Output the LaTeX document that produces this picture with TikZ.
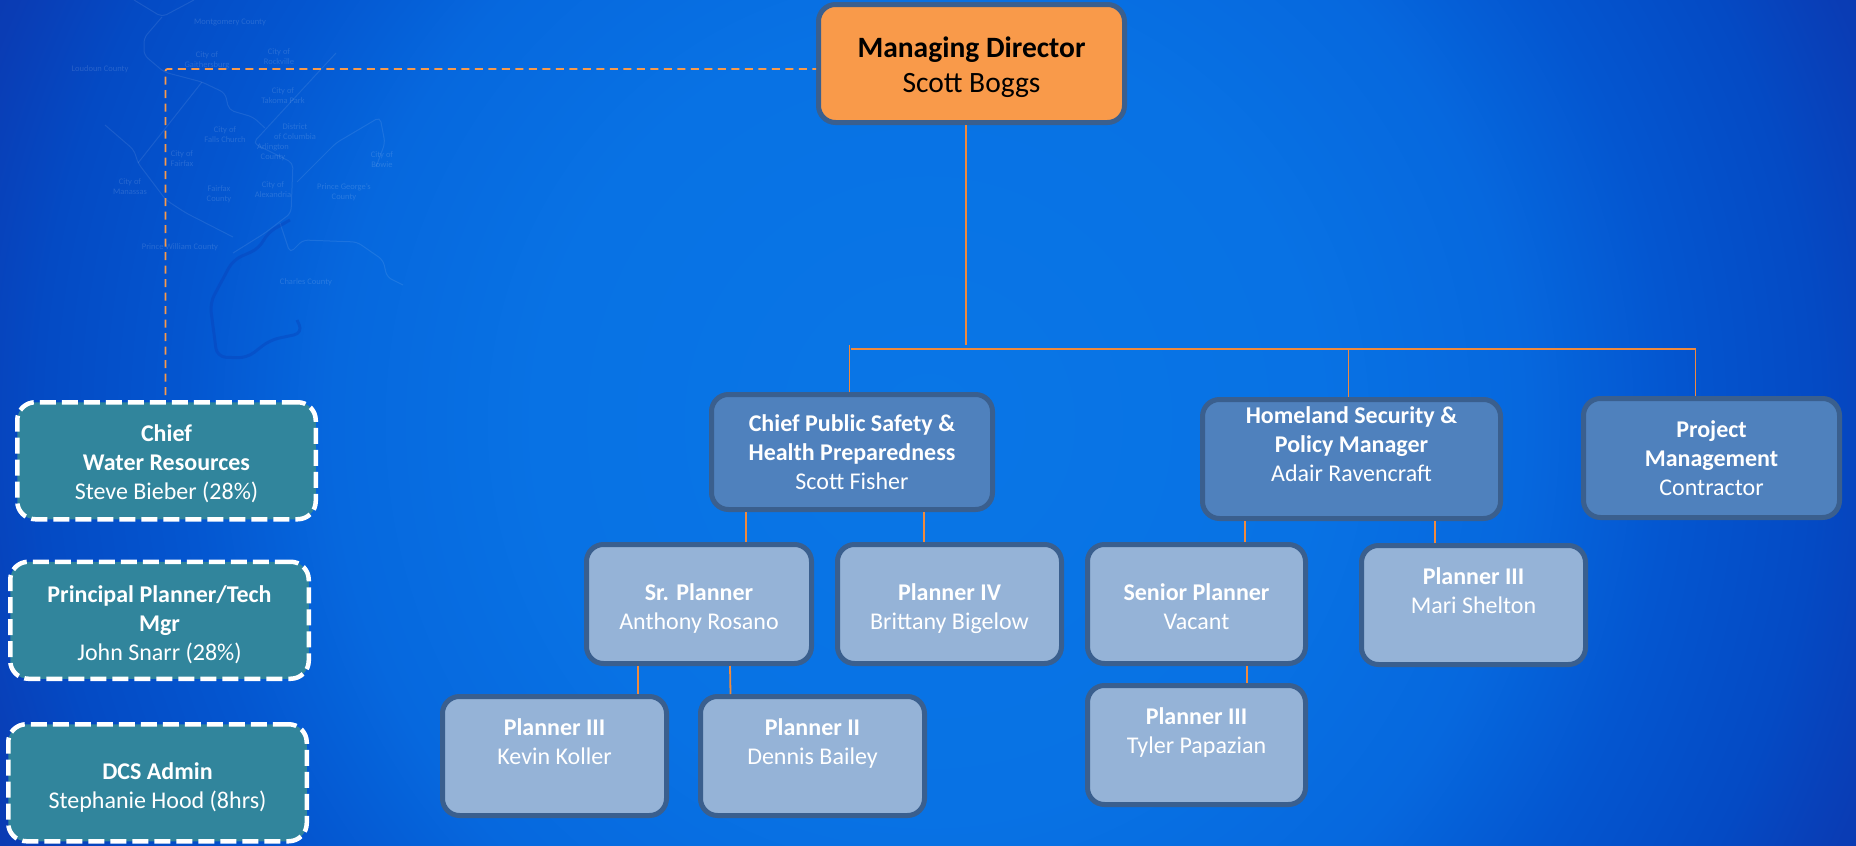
\documentclass[tikz,border=0pt]{standalone}
\usepackage{fontspec}
\setmainfont{Carlito}
\usetikzlibrary{positioning}
\definecolor{bxline}{HTML}{3A5F8E}
\definecolor{bxorange}{HTML}{F99A4A}
\definecolor{bxmid}{HTML}{4F81BD}
\definecolor{bxlight}{HTML}{95B3D7}
\definecolor{bxteal}{HTML}{31859C}
\definecolor{lnorange}{HTML}{F08A3C}
\definecolor{bga}{HTML}{0976E6}
\definecolor{bgb}{HTML}{0872E4}
\definecolor{bgc}{HTML}{0668DE}
\definecolor{bgd}{HTML}{0456D0}
\definecolor{bge}{HTML}{044AC4}
\definecolor{bgf}{HTML}{0A3CB4}
\definecolor{bgg}{HTML}{0E33A8}
\definecolor{bgh}{HTML}{112FA0}
\pgfdeclareradialshading{bgglow}{\pgfpoint{0bp}{0bp}}{
  color(0bp)=(bga);
  color(10.5bp)=(bgb);
  color(16bp)=(bgc);
  color(20bp)=(bgd);
  color(24bp)=(bge);
  color(27bp)=(bgf);
  color(31.5bp)=(bgg);
  color(35bp)=(bgh);
  color(100bp)=(bgh)}
\newcommand{\tup}[1]{\rule{0pt}{#1}}
\tikzstyle{dirbox}=[rectangle, rounded corners=17pt, draw=bxline, fill=bxorange, line width=5pt,
                    minimum width=306pt, minimum height=118pt, inner sep=0pt, align=center,
                    text=black, font=\fontsize{29.5}{34.5}\selectfont]
\tikzstyle{midbox}=[rectangle, rounded corners=17pt, draw=bxline, fill=bxmid, line width=5pt,
                    inner sep=0pt, align=center, text=white, font=\fontsize{24}{29}\selectfont]
\tikzstyle{lightbox}=[midbox, fill=bxlight, minimum width=224pt, minimum height=119pt]
\tikzstyle{dashbox}=[rectangle, rounded corners=18pt, draw=white, fill=bxteal, line width=4.5pt,
                    dash pattern=on 16pt off 6pt, minimum width=298.5pt, minimum height=117pt,
                    inner sep=0pt, align=center, text=white, font=\fontsize{24}{29}\selectfont]
\tikzstyle{pline}=[-, draw=lnorange, line width=1.8pt]
\tikzstyle{dline}=[-, draw=bxorange, line width=1.8pt, dash pattern=on 8pt off 5.5pt, rounded corners=2pt]
\tikzstyle{mapline}=[-, draw=white, draw opacity=0.09, line width=1pt, rounded corners=5pt]
\tikzstyle{riverline}=[-, draw=bgf, draw opacity=0.35, line width=3pt, rounded corners=9pt]
\tikzstyle{maptxt}=[text=white, text opacity=0.14, inner sep=0pt, align=center,
                    font=\fontsize{8.5}{10}\selectfont]

\begin{document}
\begin{tikzpicture}[x=1pt,y=-1pt]
\useasboundingbox (0,0) rectangle (1856,846);

% backdrop and county map
\begin{scope}
\clip (0,0) rectangle (1856,846);
\shade[shading=bgglow] (0,-517) rectangle (1856,1363);
\draw[mapline] (134,0) -- (162,17) -- (194,0);
\draw[mapline] (162,17) -- (144,38) -- (144,55) -- (164,72) -- (202,82) -- (225,93) -- (229,110) -- (253,117) -- (265,128);
\draw[mapline] (202,82) -- (138,163);
\draw[mapline] (105,125) -- (134,150) -- (138,163) -- (166,200) -- (186,213) -- (233,237);
\draw[mapline] (336,53) -- (253,143) -- (293,163) -- (291,213) -- (265,233) -- (233,253);
\draw[mapline] (280,223) -- (290,253) -- (303,240) -- (357,242) -- (383,260) -- (387,277) -- (403,285);
\draw[mapline] (297,182) -- (336,143) -- (380,117) -- (385,143) -- (376,167);
\draw[riverline] (290,220) -- (267,233) -- (260,248) -- (233,260) -- (210,303) -- (217,357) -- (247,358) -- (270,340) -- (303,333) -- (297,320);
\node (MONTG) [maptxt] at (230,22) {Montgomery County};
\node (LOUD) [maptxt] at (100,69) {Loudoun County};
\node (GAITH) [maptxt] at (207,60) {City of\\Gaithersburg};
\node (ROCKV) [maptxt] at (279,57) {City of\\Rockville};
\node (TAKOM) [maptxt] at (283,96) {City of\\Takoma Park};
\node (FALLS) [maptxt] at (225,135) {City of\\Falls Church};
\node (FFXC) [maptxt] at (182,159) {City of\\Fairfax};
\node (DISTR) [maptxt] at (295,132) {District\\of Columbia};
\node (ARLN) [maptxt] at (273,152) {Arlington\\County};
\node (ALEX) [maptxt] at (273,190) {City of\\Alexandria};
\node (FFXCO) [maptxt] at (219,194) {Fairfax\\County};
\node (PGEO) [maptxt] at (344,192) {Prince George's\\County};
\node (MANAS) [maptxt] at (130,187) {City of\\Manassas};
\node (BOWIE) [maptxt] at (382,160) {City of\\Bowie};
\node (PWILL) [maptxt] at (180,247) {Prince William County};
\node (CHARL) [maptxt] at (306,282) {Charles County};
\end{scope}

\node (DIR) [dirbox] at (971.5,63.5) {\tup{28.5pt}\textbf{Managing Director}\\Scott Boggs};

\node (PSAFE) [midbox, minimum width=281pt, minimum height=115pt,
below left=267pt and -179pt of DIR] {\textbf{Chief Public Safety \&}\\\textbf{Health Preparedness}\\Scott Fisher};
\node (HLS) [midbox, minimum width=298pt, minimum height=119pt,
below right=272pt and 73pt of DIR] {\textbf{Homeland Security \&}\\\textbf{Policy Manager}\\Adair Ravencraft\\\mbox{}};
\node (PROJ) [midbox, minimum width=256pt, minimum height=119pt,
below right=271pt and 454pt of DIR] {\textbf{Project}\\\textbf{Management}\\Contractor};

\node (SRP) [lightbox, minimum width=225pt, below left=30pt and -105pt of PSAFE] {\tup{26.5pt}\textbf{Sr. Planner}\\Anthony Rosano};
\node (BIGLW) [lightbox, right=21pt of SRP] {\tup{26.5pt}\textbf{Planner IV}\\Brittany Bigelow};
\node (SENP) [lightbox, minimum width=218pt, below left=21pt and -108pt of HLS] {\tup{22.5pt}\textbf{Senior Planner}\\Vacant};
\node (SHELT) [lightbox, below right=22pt and -144pt of HLS] {\textbf{Planner III}\\Mari Shelton\\\mbox{}};
\node (KOLLR) [lightbox, below left=28pt and -85pt of SRP] {\textbf{Planner III}\\Kevin Koller\\\mbox{}};
\node (BAILY) [lightbox, right=29pt of KOLLR] {\textbf{Planner II}\\Dennis Bailey\\\mbox{}};
\node (PAPAZ) [lightbox, minimum width=218pt, below=17pt of SENP] {\textbf{Planner III}\\Tyler Papazian\\\mbox{}};

\node (WATER) [dashbox, below left=275pt and 498pt of DIR] {\tup{22.5pt}\textbf{Chief}\\\textbf{Water Resources}\\Steve Bieber (28\%)};
\node (PTECH) [dashbox, below left=38pt and -296pt of WATER] {\tup{26.5pt}\textbf{Principal Planner/Tech}\\\textbf{Mgr}\\John Snarr (28\%)};
\node (DCS) [dashbox, below=41pt of PTECH, xshift=-2pt] {\tup{26pt}\textbf{DCS Admin}\\Stephanie Hood (8hrs)};

\coordinate [below=220pt of DIR, xshift=-5.5pt] (BUST);
\coordinate [above=43pt of PSAFE, xshift=-1pt] (BUSW);
\draw[pline] ([xshift=-5.5pt]DIR.south) -- (BUST);
\draw[pline] ([xshift=-16pt]PROJ.north) |- (BUSW);
\draw[pline] ([xshift=-3pt]HLS.north) |- (BUSW);
\draw[pline] ([xshift=-2.5pt]PSAFE.north) -- ([xshift=-1.5pt,yshift=4pt]BUSW);

\draw[pline] ([xshift=-106pt]PSAFE.south) -- ([xshift=47pt]SRP.north);
\draw[pline] ([xshift=72pt]PSAFE.south) -- ([xshift=-25.5pt]BIGLW.north);
\draw[pline] ([xshift=-61pt]SRP.south) -- ([xshift=83.5pt]KOLLR.north);
\draw[pline] ([xshift=31pt]SRP.south) -- ([xshift=-82pt]BAILY.north);
\draw[pline] ([xshift=-106.5pt]HLS.south) -- ([xshift=48.5pt]SENP.north);
\draw[pline] ([xshift=83.5pt]HLS.south) -- ([xshift=-38.5pt]SHELT.north);
\draw[pline] ([xshift=50.5pt]SENP.south) -- ([xshift=50.5pt]PAPAZ.north);

\draw[dline] ([xshift=-1pt,yshift=5pt]WATER.north) |- ([yshift=-5.5pt]DIR.west);
\end{tikzpicture}
\end{document}
